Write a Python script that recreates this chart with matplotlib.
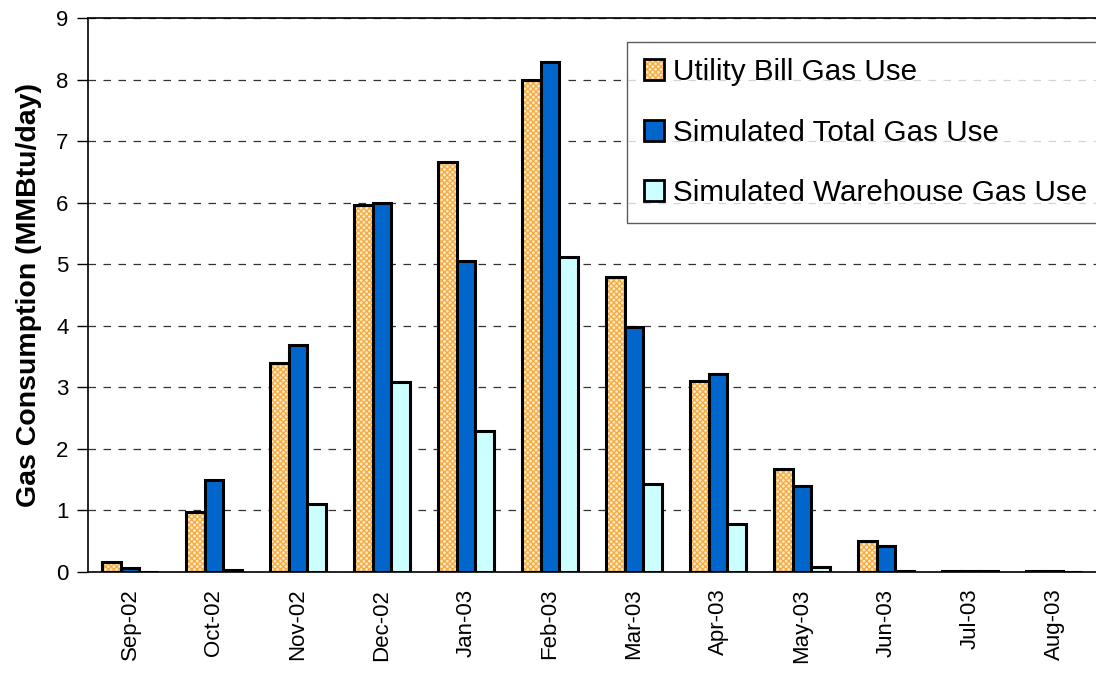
import numpy as np
import matplotlib.pyplot as plt
from matplotlib.patches import Patch

months = ['Sep-02', 'Oct-02', 'Nov-02', 'Dec-02', 'Jan-03', 'Feb-03',
          'Mar-03', 'Apr-03', 'May-03', 'Jun-03', 'Jul-03', 'Aug-03']
utility_bill = [0.17, 0.98, 3.40, 5.96, 6.66, 8.00, 4.79, 3.10, 1.67, 0.50, 0.02, 0.01]
sim_total = [0.07, 1.50, 3.68, 6.00, 5.05, 8.29, 3.98, 3.21, 1.39, 0.43, 0.02, 0.01]
sim_warehouse = [0.00, 0.03, 1.10, 3.08, 2.29, 5.12, 1.43, 0.78, 0.08, 0.01, 0.02, 0.00]

plt.rcParams['font.family'] = ['Liberation Sans', 'DejaVu Sans']
plt.rcParams['hatch.linewidth'] = 1.0

fig = plt.figure(figsize=(10.96, 6.77), dpi=100)
ax = fig.add_axes([88/1096, 105/677, 1 - 88/1096, 554/677])

x = np.arange(len(months))
w = 0.226

# orange hatched bars: hatch layer first, then black outline on top
ax.bar(x - w, utility_bill, w, color='#FFEBC8', edgecolor='#F5AC45', hatch='xxxxxx',
       linewidth=0, zorder=3)
ax.bar(x - w, utility_bill, w, facecolor='none', edgecolor='black', linewidth=2.2,
       zorder=4)
ax.bar(x, sim_total, w, color='#0066CC', edgecolor='black', linewidth=2.2, zorder=4)
ax.bar(x + w, sim_warehouse, w, color='#CCFFFF', edgecolor='black', linewidth=2.2,
       zorder=4)

ax.set_xlim(-0.5, len(months) - 0.5)
ax.set_ylim(0, 9)
ax.set_yticks(range(10))
ax.set_xticks(x)
ax.set_xticklabels(months, rotation=90, fontsize=16)
ax.tick_params(axis='x', length=0, pad=12)
ax.tick_params(axis='y', labelsize=16, length=8, direction='out', width=1, pad=6)
ax.yaxis.grid(True, linestyle=(0, (6, 6)), color='#333333', linewidth=0.9, zorder=0)
ax.set_axisbelow(True)

ax.spines['right'].set_visible(False)
for s in ['left', 'top', 'bottom']:
    ax.spines[s].set_linewidth(1.2)

ax.set_ylabel('Gas Consumption (MMBtu/day)', fontsize=20.5, fontweight='bold', labelpad=10)

# legend handles (hatched one = hatch layer + black outline)
hatch_handle = (Patch(facecolor='#FFEBC8', edgecolor='#F5AC45', hatch='xxxxxx', linewidth=0),
                Patch(facecolor='none', edgecolor='black', linewidth=2))
handles = [hatch_handle,
           Patch(facecolor='#0066CC', edgecolor='black', linewidth=2),
           Patch(facecolor='#CCFFFF', edgecolor='black', linewidth=2)]
labels = ['Utility Bill Gas Use', 'Simulated Total Gas Use', 'Simulated Warehouse Gas Use']
leg = ax.legend(handles, labels, loc='upper left', bbox_to_anchor=(0.535, 0.957),
                fontsize=21.3, frameon=True, fancybox=False, edgecolor='#333333',
                handlelength=0.7, handleheight=0.7, handletextpad=0.3,
                labelspacing=1.1, borderpad=0.55, borderaxespad=0)
leg.get_frame().set_linewidth(1.0)
leg.set_zorder(6)

fig.savefig('out.png', dpi=100)
